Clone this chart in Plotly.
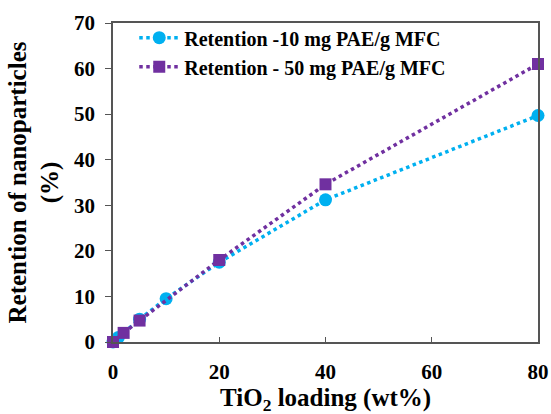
import plotly.graph_objects as go

x_10 = [0, 1, 5, 10, 20, 40, 80]
y_10 = [0, 1, 5, 9.5, 17.5, 31.2, 49.7]
x_50 = [0, 2, 5, 20, 40, 80]
y_50 = [0, 2, 4.7, 18, 34.6, 61]
name_10 = "Retention -10 mg PAE/g MFC"
name_50 = "Retention - 50 mg PAE/g MFC"
x_title = "TiO<sub>2</sub> loading (wt%)"
y_title = "Retention of nanoparticles<br>(%)"

font = "Liberation Serif"
fig = go.Figure()
fig.add_trace(go.Scatter(x=x_10, y=y_10, name=name_10, mode="lines+markers",
                         line=dict(color="#00B0F0", width=3.5, dash="dot"),
                         marker=dict(symbol="circle", size=13, color="#00B0F0"),
                         cliponaxis=False))
fig.add_trace(go.Scatter(x=x_50, y=y_50, name=name_50, mode="lines+markers",
                         line=dict(color="#7030A0", width=3.5, dash="dot"),
                         marker=dict(symbol="square", size=12, color="#7030A0"),
                         cliponaxis=False))

fig.update_layout(
    width=551, height=414,
    margin=dict(l=113, r=13, t=23, b=72),
    plot_bgcolor="white", paper_bgcolor="white",
    font=dict(family=font, color="black", size=21),
    showlegend=True,
    legend=dict(x=0.05, y=1.015, xanchor="left", yanchor="top",
                bgcolor="rgba(0,0,0,0)", font=dict(size=20, family=font, weight="bold"),
                tracegroupgap=0, itemwidth=40),
    xaxis=dict(range=[0, 80], tickvals=[0, 20, 40, 60, 80], ticks="inside", ticklen=5,
               tickcolor="#555", showline=True, linecolor="#555", linewidth=1.5, mirror=True,
               showgrid=False, zeroline=False, automargin=False,
               tickfont=dict(size=21, family=font, weight="bold"), ticklabelstandoff=10),
    yaxis=dict(range=[0, 70], tickvals=[0, 10, 20, 30, 40, 50, 60, 70], ticks="outside", ticklen=6,
               tickcolor="#555", showline=True, linecolor="#555", linewidth=1.5, mirror=True,
               showgrid=False, zeroline=False, automargin=False,
               tickfont=dict(size=21, family=font, weight="bold"), ticklabelstandoff=6,
               title=dict(text=y_title, standoff=8,
                          font=dict(size=25, family=font, weight="bold"))),
    annotations=[dict(text=x_title, xref="paper", yref="paper", x=0.5, y=0,
                      xanchor="center", yanchor="top", yshift=-40, showarrow=False,
                      font=dict(size=25, family=font, weight="bold"))],
)
fig.write_html("out.html")
